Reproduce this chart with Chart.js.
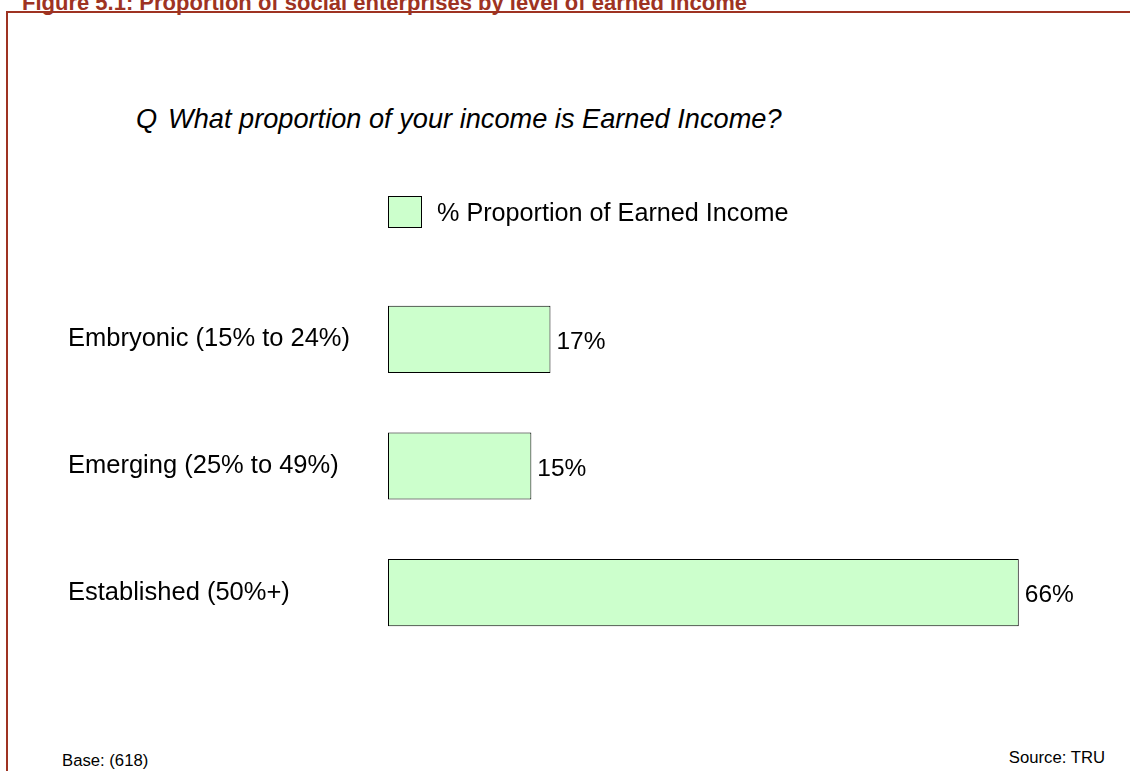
<!DOCTYPE html>
<html>
<head>
<meta charset="utf-8">
<script src="https://cdn.jsdelivr.net/npm/chart.js@4.4.1/dist/chart.umd.min.js"></script>
<style>
  html, body { margin: 0; padding: 0; background: #fff; }
  #page { position: relative; width: 1130px; height: 771px; overflow: hidden; font-family: "Liberation Sans", Arial, sans-serif; }
  #frame { position: absolute; left: 6px; top: 11px; width: 1200px; height: 900px; border-left: 2px solid #9e3322; border-top: 2px solid #9e3322; }
  #title { position: absolute; left: 22px; top: -7.8px; font-size: 22px; line-height: 22px; font-weight: bold; color: #9e3322; white-space: nowrap; }
  .q { position: absolute; top: 105px; font-size: 27.2px; line-height: 27.2px; font-style: italic; color: #000; white-space: nowrap; }
  .note { position: absolute; font-size: 16.7px; line-height: 16.7px; color: #000; white-space: nowrap; }
  #chart { position: absolute; left: 0; top: 0; }
</style>
</head>
<body>
<div id="page">
  <div id="title">Figure 5.1: Proportion of social enterprises by level of earned income</div>
  <div id="frame"></div>
  <div class="q" style="left:136px">Q</div>
  <div class="q" style="left:168px">What proportion of your income is Earned Income?</div>
  <div class="note" style="left:62px; top:753px">Base: (618)</div>
  <div class="note" style="right:25px; top:750px">Source: TRU</div>
  <canvas id="chart" width="1130" height="771"></canvas>
</div>
<script>
// Earned-income bands and the share of enterprises in each
const categories = ["Embryonic (15% to 24%)", "Emerging (25% to 49%)", "Established (50%+)"];
const shares = [17, 15, 66];
const seriesName = "% Proportion of Earned Income";

const FONT = '"Liberation Sans", Arial, sans-serif';

// Value labels to the right of each bar
const valueLabels = {
  id: 'valueLabels',
  afterDatasetsDraw(chart) {
    const ctx = chart.ctx;
    const meta = chart.getDatasetMeta(0);
    ctx.save();
    ctx.font = '24.5px ' + FONT;
    ctx.fillStyle = '#000';
    ctx.textAlign = 'left';
    ctx.textBaseline = 'middle';
    meta.data.forEach((bar, i) => {
      ctx.fillText(shares[i] + '%', bar.x + 6, bar.y + 3);
    });
    ctx.restore();
  }
};

// Single-entry legend above the bars
const boxLegend = {
  id: 'boxLegend',
  afterDraw(chart) {
    const ctx = chart.ctx;
    const ds = chart.data.datasets[0];
    const x = chart.chartArea.left, y = 196;
    ctx.save();
    ctx.fillStyle = ds.backgroundColor;
    ctx.fillRect(x + 0.5, y + 0.5, 33, 31);
    ctx.strokeStyle = '#000';
    ctx.lineWidth = 1;
    ctx.strokeRect(x + 0.5, y + 0.5, 33, 31);
    ctx.font = '25.2px ' + FONT;
    ctx.fillStyle = '#000';
    ctx.textAlign = 'left';
    ctx.textBaseline = 'middle';
    ctx.fillText(ds.label, x + 49, y + 18);
    ctx.restore();
  }
};

new Chart(document.getElementById('chart'), {
  type: 'bar',
  data: {
    labels: categories,
    datasets: [{
      label: seriesName,
      data: shares,
      backgroundColor: '#ccffcc',
      borderColor: '#000',
      borderWidth: 1,
      borderSkipped: false,
      barPercentage: 0.53,
      categoryPercentage: 1
    }]
  },
  options: {
    indexAxis: 'y',
    responsive: false,
    animation: false,
    layout: { padding: { left: 68, right: 73, top: 276, bottom: 115 } },
    plugins: { legend: { display: false }, tooltip: { enabled: false } },
    scales: {
      x: { display: false, min: 0, max: 70 },
      y: {
        grid: { display: false, drawTicks: false },
        border: { display: false },
        ticks: {
          crossAlign: 'far',
          color: '#000',
          padding: 0,
          font: { family: FONT, size: 25.5 }
        },
        afterFit(scale) { scale.width = 320; }
      }
    }
  },
  plugins: [valueLabels, boxLegend]
});
</script>
</body>
</html>
